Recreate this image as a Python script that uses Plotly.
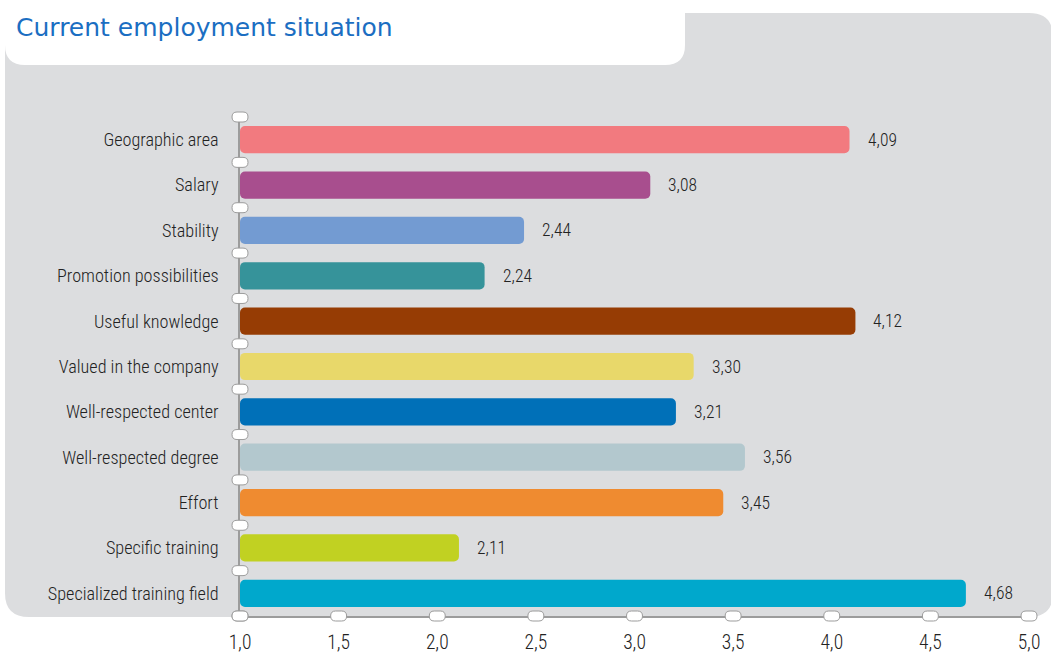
import plotly.graph_objects as go

# data, top to bottom as in the chart
categories = [
    "Geographic area", "Salary", "Stability", "Promotion possibilities",
    "Useful knowledge", "Valued in the company", "Well-respected center",
    "Well-respected degree", "Effort", "Specific training",
    "Specialized training field",
]
scores = [4.09, 3.08, 2.44, 2.24, 4.12, 3.30, 3.21, 3.56, 3.45, 2.11, 4.68]
bar_colors = [
    "#F27A7F", "#A84E8E", "#739BD2", "#36939A", "#963C04", "#E8D86A",
    "#0070B8", "#B3C8CE", "#EF8B30", "#C1D122", "#00A8CC",
]
x_ticks = [1.0, 1.5, 2.0, 2.5, 3.0, 3.5, 4.0, 4.5, 5.0]
x_range = [1.0, 5.0]
axis_start = 1.0

W, H = 1051, 655
L, R, T, B = 240, 22, 117, 39
pw, ph = W - L - R, H - T - B

LABEL_FONT = "Roboto Condensed, Liberation Sans Narrow, Roboto, sans-serif"
AXIS_GRAY = "#9c9c9c"
TEXT = "#222222"


def comma(v, nd):
    return f"{v:.{nd}f}".replace(".", ",")


def px(x):
    return (x - L) / pw


def py(y):
    return (H - B - y) / ph


def rounded_rect(x0, y0, x1, y1, r, corners=(True, True, True, True)):
    # corners: top-left, top-right, bottom-right, bottom-left (pixel coords)
    tl, tr, br, bl = [r if c else 0 for c in corners]
    pts = [f"M{px(x0 + tl)},{py(y0)}", f"L{px(x1 - tr)},{py(y0)}"]
    if tr:
        pts.append(f"Q{px(x1)},{py(y0)} {px(x1)},{py(y0 + tr)}")
    pts.append(f"L{px(x1)},{py(y1 - br)}")
    if br:
        pts.append(f"Q{px(x1)},{py(y1)} {px(x1 - br)},{py(y1)}")
    pts.append(f"L{px(x0 + bl)},{py(y1)}")
    if bl:
        pts.append(f"Q{px(x0)},{py(y1)} {px(x0)},{py(y1 - bl)}")
    pts.append(f"L{px(x0)},{py(y0 + tl)}")
    if tl:
        pts.append(f"Q{px(x0)},{py(y0)} {px(x0 + tl)},{py(y0)}")
    pts.append("Z")
    return " ".join(pts)


fig = go.Figure(go.Bar(
    y=categories,
    x=[s - axis_start for s in scores],
    base=axis_start,
    orientation="h",
    width=0.6,
    marker=dict(color=bar_colors, cornerradius=5, line=dict(width=0)),
    hovertemplate="%{y}: %{customdata}<extra></extra>",
    customdata=[comma(s, 2) for s in scores],
    cliponaxis=False,
))

shapes = [
    # grey panel
    dict(type="path", xref="paper", yref="paper", layer="below",
         path=rounded_rect(5, 13, 1053, 617, 24),
         fillcolor="#DCDDDF", line=dict(width=0)),
    # white title tab
    dict(type="path", xref="paper", yref="paper", layer="below",
         path=rounded_rect(5, -2, 685, 65, 20, (False, False, True, True)),
         fillcolor="white", line=dict(width=0)),
]

# little white pill-shaped knobs on both axes (paper refs so they are not clipped)
pill = "M-3,-5 L3,-5 Q8,-5 8,0 Q8,5 3,5 L-3,5 Q-8,5 -8,0 Q-8,-5 -3,-5 Z"
knob = dict(type="path", xref="paper", yref="paper",
            xsizemode="pixel", ysizemode="pixel", path=pill,
            fillcolor="white", line=dict(color=AXIS_GRAY, width=1), layer="above")
n = len(categories)
for i in range(n + 1):
    shapes.append(dict(knob, xanchor=0, yanchor=1 - i / n))
for t in x_ticks:
    shapes.append(dict(knob, xanchor=(t - x_range[0]) / (x_range[1] - x_range[0]), yanchor=0))

annotations = [
    dict(text="Current employment situation", xref="paper", yref="paper",
         x=px(14), y=py(27), xanchor="left", yanchor="middle", showarrow=False,
         font=dict(family="DejaVu Sans", size=25, color="#1B6EC2")),
]
for cat, s in zip(categories, scores):
    annotations.append(dict(
        text=comma(s, 2), x=s, y=cat, xref="x", yref="y",
        xanchor="left", yanchor="middle", xshift=16, showarrow=False,
        font=dict(family=LABEL_FONT, size=17.5, color=TEXT, weight=300),
    ))

fig.update_layout(
    width=W, height=H,
    margin=dict(l=L, r=R, t=T, b=B, autoexpand=False),
    paper_bgcolor="white", plot_bgcolor="rgba(0,0,0,0)",
    showlegend=False,
    shapes=shapes,
    annotations=annotations,
    xaxis=dict(range=x_range, tickvals=x_ticks,
               ticktext=[comma(t, 1) for t in x_ticks],
               showgrid=False, zeroline=False, showline=True,
               linecolor=AXIS_GRAY, linewidth=1.5, ticks="",
               ticklabelstandoff=8,
               tickfont=dict(family=LABEL_FONT, size=19.5, color=TEXT, weight=300)),
    yaxis=dict(range=[n - 0.5, -0.5], showgrid=False, zeroline=False,
               showline=True, linecolor=AXIS_GRAY, linewidth=1.5, ticks="",
               ticklabelstandoff=16,
               tickfont=dict(family=LABEL_FONT, size=18.2, color=TEXT, weight=300)),
)

fig.write_html("out.html", config={"displayModeBar": False},
               post_script="document.body.style.margin='0';")
